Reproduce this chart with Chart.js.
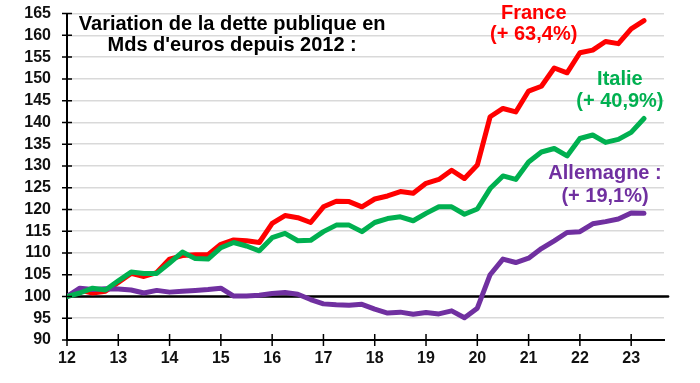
<!DOCTYPE html>
<html><head><meta charset="utf-8">
<script src="https://cdn.jsdelivr.net/npm/chart.js@4/dist/chart.umd.min.js"></script>
<style>html,body{margin:0;padding:0;background:#fff}</style>
</head><body>
<canvas id="c" width="700" height="383"></canvas>
<script>
const quarters = [12,12.25,12.5,12.75,13,13.25,13.5,13.75,14,14.25,14.5,14.75,15,15.25,15.5,15.75,16,16.25,16.5,16.75,17,17.25,17.5,17.75,18,18.25,18.5,18.75,19,19.25,19.5,19.75,20,20.25,20.5,20.75,21,21.25,21.5,21.75,22,22.25,22.5,22.75,23,23.25];
const france = [100,101.5,100.8,101.2,103.2,105.3,104.6,105.5,108.6,109.4,109.6,109.6,112.0,113.0,112.8,112.4,116.8,118.6,118.1,117.0,120.6,121.9,121.8,120.6,122.4,123.1,124.1,123.7,126.0,126.9,129.0,127.1,130.2,141.3,143.2,142.4,147.2,148.3,152.5,151.4,156.0,156.6,158.6,158.1,161.5,163.4];
const italie = [100,100.8,101.9,101.5,103.6,105.6,105.3,105.3,107.7,110.2,108.7,108.6,111.2,112.4,111.6,110.5,113.5,114.5,112.8,112.9,114.9,116.4,116.4,114.9,117.0,117.9,118.3,117.4,119.1,120.6,120.6,118.9,120.1,124.8,127.7,126.9,130.9,133.2,134.0,132.3,136.3,137.1,135.4,136.1,137.7,140.9];
const allemagne = [100,101.9,101.6,101.8,101.7,101.5,100.8,101.4,101.0,101.2,101.4,101.6,101.9,100.1,100.1,100.3,100.7,100.9,100.5,99.3,98.3,98.1,98.0,98.2,97.1,96.2,96.4,95.9,96.3,96.0,96.7,95.1,97.3,105.0,108.6,107.8,108.8,111.0,112.8,114.7,114.9,116.7,117.2,117.8,119.2,119.1];
const xTickLabels = [12,13,14,15,16,17,18,19,20,21,22,23];
const baseLine = [100,100];
const baseLineX = [12,23.72];
const titleLines = ["Variation de la dette publique en","Mds d'euros depuis 2012 :"];
const seriesLabels = [
  {lines:["France","(+ 63,4%)"], color:"#FF0000", x:21.1, y:[165.1,160.1]},
  {lines:["Italie","(+ 40,9%)"], color:"#00B050", x:22.78, y:[149.8,144.7]},
  {lines:["Allemagne :","(+ 19,1%)"], color:"#7030A0", x:22.49, y:[128.2,122.9]}
];

const FONT = "'Liberation Sans', Arial, sans-serif";
const pts = (arr) => arr.map((v,i)=>({x:quarters[i], y:v}));

const decor = {
  id:'decor',
  afterDraw(chart){
    const ctx = chart.ctx, xs = chart.scales.x, ys = chart.scales.y, ca = chart.chartArea;
    ctx.save();
    ctx.strokeStyle = '#000'; ctx.lineWidth = 1.5;
    ctx.beginPath();
    ys.ticks.forEach(t=>{ const py = ys.getPixelForValue(t.value); ctx.moveTo(ca.left-5, py); ctx.lineTo(ca.left+5, py); });
    xs.ticks.forEach(t=>{ const px = xs.getPixelForValue(t.value); ctx.moveTo(px, ca.bottom-6); ctx.lineTo(px, ca.bottom+6); });
    ctx.stroke();
    ctx.textAlign = 'center'; ctx.textBaseline = 'middle';
    ctx.font = 'bold 20px ' + FONT;
    ctx.fillStyle = '#000';
    ctx.fillText(titleLines[0], xs.getPixelForValue(15.22), ys.getPixelForValue(162.6));
    ctx.fillText(titleLines[1], xs.getPixelForValue(15.22), ys.getPixelForValue(157.7));
    seriesLabels.forEach(s=>{
      ctx.fillStyle = s.color;
      s.lines.forEach((l,i)=>ctx.fillText(l, xs.getPixelForValue(s.x), ys.getPixelForValue(s.y[i])));
    });
    ctx.restore();
  }
};

new Chart(document.getElementById('c'), {
  type:'line',
  data:{ datasets:[
    {label:'Italie', data:pts(italie), borderColor:'#00B050', borderWidth:5, order:0},
    {label:'Allemagne', data:pts(allemagne), borderColor:'#7030A0', borderWidth:5, order:1},
    {label:'France', data:pts(france), borderColor:'#FF0000', borderWidth:5, order:2},
    {label:'base', data:baseLineX.map((x,i)=>({x, y:baseLine[i]})), borderColor:'#000', borderWidth:2.5, order:3, clip:false}
  ]},
  options:{
    responsive:false, animation:false, devicePixelRatio:1,
    layout:{padding:{left:0,right:36,top:0,bottom:0}},
    elements:{point:{radius:0}, line:{tension:0, borderCapStyle:'round', borderJoinStyle:'round', fill:false}},
    plugins:{legend:{display:false}, tooltip:{enabled:false}},
    scales:{
      x:{type:'linear', min:12, max:23.64,
        afterBuildTicks:(s)=>{ s.ticks = xTickLabels.map(v=>({value:v})); },
        afterFit:(s)=>{ s.height = 43; },
        grid:{display:false, drawTicks:false},
        border:{display:true, color:'#000', width:2},
        ticks:{padding:9, color:'#111', font:{family:FONT, size:16, weight:'bold'}, autoSkip:false, maxRotation:0}
      },
      y:{min:90, max:165,
        afterFit:(s)=>{ s.width = 67; },
        grid:{color:'#D9D9D9', lineWidth:1.5, drawTicks:true, tickLength:12, tickColor:'rgba(0,0,0,0)'},
        border:{display:true, color:'#000', width:2},
        ticks:{stepSize:5, padding:4, color:'#111', font:{family:FONT, size:16, weight:'bold'}, autoSkip:false}
      }
    }
  },
  plugins:[decor]
});
</script>
</body></html>
